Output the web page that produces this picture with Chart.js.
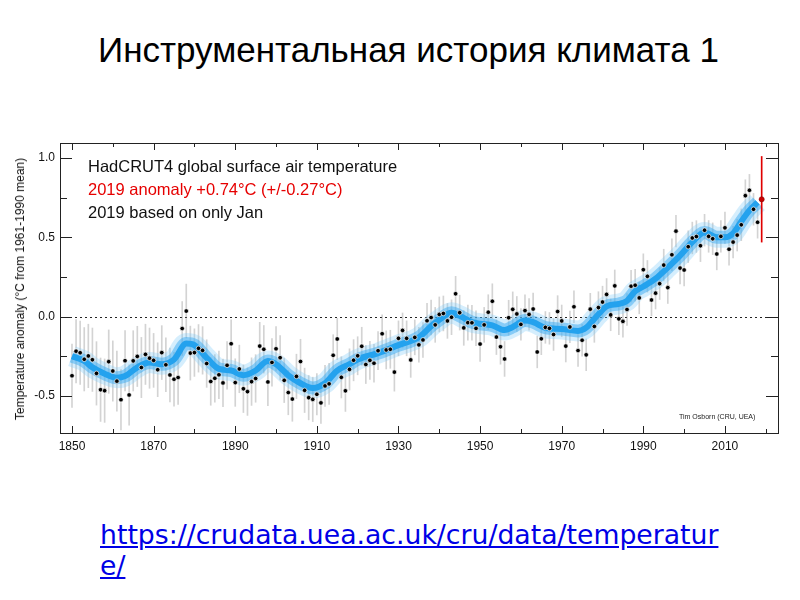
<!DOCTYPE html>
<html>
<head>
<meta charset="utf-8">
<script src="https://cdn.jsdelivr.net/npm/chart.js@4/dist/chart.umd.min.js"></script>
<style>
  body { margin: 0; width: 800px; height: 600px; background: #fff; position: relative; overflow: hidden;
         font-family: "Liberation Sans", Arial, sans-serif; }
  #title { position: absolute; left: 98px; top: 32px; font-size: 35px; line-height: 36px; color: #000; white-space: nowrap; }
  #chartBox { position: absolute; left: 0; top: 130px; width: 800px; height: 330px; }
  .txt { position: absolute; white-space: nowrap; z-index: 2; }
  #yTitle { left: 20px; top: 289px; font-size: 12px; color: #111; transform: translate(-50%, -50%) rotate(-90deg); }
  .legend { left: 88px; font-size: 16.5px; line-height: 23px; color: #111; }
  #credit { left: 679px; top: 412px; font-size: 7px; line-height: 10px; color: #222; }
  #link { position: absolute; left: 100px; top: 519px; font-family: "DejaVu Sans", sans-serif; font-size: 26.7px;
          line-height: 31px; color: #0000e6; text-decoration: underline; white-space: nowrap; }
</style>
</head>
<body>
<div id="title">Инструментальная история климата 1</div>
<div id="chartBox"><canvas id="tempChart"></canvas></div>
<div class="txt" id="yTitle">Temperature anomaly (°C from 1961-1990 mean)</div>
<div class="txt legend" style="top:155px">HadCRUT4 global surface air temperature</div>
<div class="txt legend" style="top:178px;color:#e60000">2019 anomaly +0.74°C (+/-0.27°C)</div>
<div class="txt legend" style="top:201px">2019 based on only Jan</div>
<div class="txt" id="credit">Tim Osborn (CRU, UEA)</div>
<div id="link">https://crudata.uea.ac.uk/cru/data/temperatur<br>e/</div>
<script>
// Annual global anomalies, 1850-2018 (°C vs 1961-1990)
const firstYear = 1850;
const anomalies = [
  -0.373, -0.218, -0.228, -0.269, -0.248, -0.272, -0.358, -0.461, -0.467, -0.284,
  -0.343, -0.407, -0.524, -0.278, -0.494, -0.279, -0.251, -0.321, -0.238, -0.262,
  -0.276, -0.335, -0.227, -0.304, -0.368, -0.395, -0.384, -0.075, 0.035, -0.230,
  -0.227, -0.200, -0.213, -0.296, -0.409, -0.389, -0.367, -0.418, -0.307, -0.171,
  -0.416, -0.330, -0.455, -0.473, -0.410, -0.390, -0.186, -0.206, -0.412, -0.289,
  -0.203, -0.259, -0.402, -0.479, -0.520, -0.377, -0.283, -0.465, -0.511, -0.522,
  -0.490, -0.544, -0.437, -0.424, -0.244, -0.141, -0.383, -0.468, -0.333, -0.275,
  -0.247, -0.187, -0.302, -0.276, -0.294, -0.215, -0.108, -0.210, -0.206, -0.350,
  -0.137, -0.087, -0.137, -0.273, -0.131, -0.178, -0.147, -0.026, -0.006, -0.052,
  0.014, 0.020, -0.027, -0.004, 0.144, 0.025, -0.071, -0.038, -0.039, -0.074,
  -0.173, -0.052, 0.028, 0.097, -0.129, -0.190, -0.267, -0.007, 0.046, 0.017,
  -0.049, 0.038, 0.014, 0.048, -0.223, -0.140, -0.068, -0.074, -0.113, 0.032,
  -0.027, -0.186, -0.065, 0.062, -0.214, -0.149, -0.241, 0.047, -0.062, 0.057,
  0.092, 0.140, 0.011, 0.194, -0.014, -0.030, 0.045, 0.192, 0.198, 0.118,
  0.296, 0.254, 0.105, 0.148, 0.208, 0.325, 0.183, 0.390, 0.539, 0.306,
  0.294, 0.441, 0.496, 0.505, 0.447, 0.545, 0.506, 0.491, 0.395, 0.506,
  0.560, 0.425, 0.470, 0.514, 0.579, 0.763, 0.797, 0.677, 0.595
];
// half-width of the grey uncertainty bars, one value per decade (1850s .. 2010s)
const errByDecade = [0.20, 0.19, 0.17, 0.15, 0.15, 0.14, 0.13, 0.12, 0.11, 0.11, 0.11, 0.10, 0.10, 0.10, 0.10, 0.10, 0.10];

// smoothed curve
const smoothYears = [1850, 1853, 1855, 1858, 1861, 1863, 1866, 1869, 1872, 1875, 1878, 1880, 1883, 1886, 1889,
  1892, 1895, 1898, 1900, 1903, 1906, 1909, 1912, 1915, 1918, 1920, 1925, 1930, 1935, 1938, 1940, 1943, 1945,
  1948, 1950, 1953, 1956, 1958, 1961, 1963, 1966, 1970, 1974, 1976, 1979, 1981, 1984, 1986, 1988, 1990, 1993,
  1996, 1999, 2002, 2005, 2008, 2010, 2012, 2014, 2016, 2018];
const smoothValues = [-0.25, -0.28, -0.32, -0.36, -0.385, -0.375, -0.32, -0.29, -0.30, -0.27, -0.17, -0.18, -0.26,
  -0.33, -0.34, -0.37, -0.34, -0.28, -0.30, -0.37, -0.42, -0.45, -0.42, -0.34, -0.30, -0.27, -0.23, -0.18, -0.13,
  -0.06, -0.02, 0.025, 0.005, -0.035, -0.045, -0.055, -0.085, -0.065, -0.025, -0.035, -0.07, -0.078, -0.09, -0.07,
  0.015, 0.065, 0.08, 0.10, 0.16, 0.19, 0.24, 0.31, 0.385, 0.47, 0.53, 0.50, 0.50, 0.525, 0.60, 0.67, 0.72];

// 2019 (January only)
const lastYear = 2019;
const lastValue = 0.74;
const lastErr = 0.27;

const yearOf = i => firstYear + i;
const points = anomalies.map((v, i) => ({ x: yearOf(i), y: v }));
const bars = anomalies.map((v, i) => {
  const e = errByDecade[Math.floor(i / 10)];
  return { x: yearOf(i), y: [v - e, v + e] };
});
const smooth = smoothYears.map((y, i) => ({ x: y, y: smoothValues[i] }));

const isMajorY = v => Math.abs(v * 2 - Math.round(v * 2)) < 1e-6;
const isMajorX = v => (v - 1850) % 20 === 0;

const framePlugin = {
  id: 'frame',
  beforeDatasetsDraw(chart) {
    const { ctx, chartArea: a, scales: { y } } = chart;
    const y0 = Math.round(y.getPixelForValue(0)) + 0.5;
    ctx.save();
    ctx.strokeStyle = '#222';
    ctx.lineWidth = 1;
    ctx.setLineDash([2, 3]);
    ctx.beginPath();
    ctx.moveTo(a.left, y0);
    ctx.lineTo(a.right, y0);
    ctx.stroke();
    ctx.restore();
  },
  afterDraw(chart) {
    const { ctx, chartArea: a, scales: { x, y } } = chart;
    ctx.save();
    ctx.strokeStyle = '#222';
    ctx.lineWidth = 1;
    ctx.strokeRect(Math.round(a.left) + 0.5, Math.round(a.top) + 0.5,
      Math.round(a.right - a.left), Math.round(a.bottom - a.top));
    ctx.beginPath();
    x.ticks.forEach(t => {
      const px = Math.round(x.getPixelForValue(t.value)) + 0.5;
      const len = isMajorX(t.value) ? 7 : 4;
      ctx.moveTo(px, a.bottom); ctx.lineTo(px, a.bottom - len);
      ctx.moveTo(px, a.top); ctx.lineTo(px, a.top + len);
    });
    y.ticks.forEach(t => {
      const py = Math.round(y.getPixelForValue(t.value)) + 0.5;
      const len = isMajorY(t.value) ? 12 : 7;
      ctx.moveTo(a.left, py); ctx.lineTo(a.left + len, py);
      ctx.moveTo(a.right, py); ctx.lineTo(a.right - len, py);
    });
    ctx.stroke();
    ctx.restore();
  }
};

new Chart(document.getElementById('tempChart'), {
  type: 'line',
  data: {
    datasets: [
      {
        type: 'scatter',
        data: [{ x: lastYear, y: lastValue }],
        backgroundColor: '#c80000',
        borderColor: '#700',
        borderWidth: 0.5,
        pointRadius: 2.6,
        order: 0
      },
      {
        type: 'bar',
        data: [{ x: lastYear, y: [lastValue - lastErr, lastValue + lastErr] }],
        backgroundColor: '#e00000',
        barThickness: 1,
        grouped: false,
        order: 1
      },
      {
        type: 'scatter',
        data: points,
        backgroundColor: '#000',
        borderColor: 'rgba(255,255,255,0.85)',
        borderWidth: 0.8,
        pointRadius: 2.3,
        order: 2
      },
      {
        data: smooth,
        borderColor: '#24a2ee',
        borderWidth: 6,
        pointRadius: 0,
        cubicInterpolationMode: 'monotone',
        order: 3
      },
      {
        data: smooth,
        borderColor: 'rgba(60,172,242,0.5)',
        borderWidth: 13,
        pointRadius: 0,
        cubicInterpolationMode: 'monotone',
        order: 4
      },
      {
        data: smooth,
        borderColor: 'rgba(125,202,248,0.32)',
        borderWidth: 21,
        pointRadius: 0,
        cubicInterpolationMode: 'monotone',
        order: 5
      },
      {
        type: 'bar',
        data: bars,
        backgroundColor: 'rgba(130,130,130,0.35)',
        barThickness: 1,
        grouped: false,
        order: 6
      }
    ]
  },
  options: {
    responsive: true,
    maintainAspectRatio: false,
    animation: false,
    events: [],
    layout: { padding: { left: 0, right: 22, top: 13, bottom: 0 } },
    plugins: { legend: { display: false }, tooltip: { enabled: false } },
    scales: {
      x: {
        type: 'linear',
        min: 1847.06,
        max: 2023.0,
        offset: false,
        grid: { display: false, drawTicks: false },
        border: { display: false },
        afterFit: s => { s.height = 27; },
        ticks: {
          stepSize: 10,
          includeBounds: false,
          autoSkip: false,
          maxRotation: 0,
          padding: 6,
          color: '#111',
          font: { family: '"Liberation Sans", Arial, sans-serif', size: 12 },
          callback: v => isMajorX(v) ? String(v) : ''
        }
      },
      y: {
        min: -0.734,
        max: 1.095,
        grid: { display: false, drawTicks: false },
        border: { display: false },
        afterFit: s => { s.width = 60; },
        ticks: {
          stepSize: 0.25,
          includeBounds: false,
          autoSkip: false,
          padding: 5,
          color: '#111',
          font: { family: '"Liberation Sans", Arial, sans-serif', size: 12 },
          callback: v => isMajorY(v) ? v.toFixed(1) : ''
        }
      }
    }
  },
  plugins: [framePlugin]
});
</script>
</body>
</html>
